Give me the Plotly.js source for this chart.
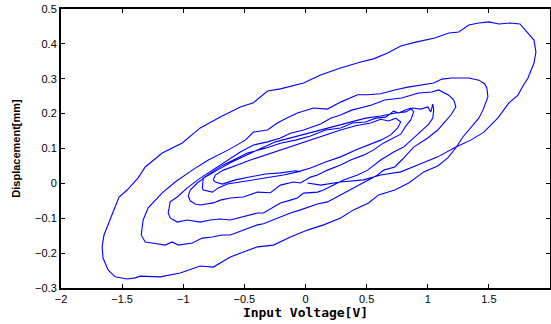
<!DOCTYPE html>
<html>
<head>
<meta charset="utf-8">
<script src="https://cdn.plot.ly/plotly-3.0.1.min.js"></script>
<style>
html,body{margin:0;padding:0;background:#fff;}
#chart{width:551px;height:324px;}
</style>
</head>
<body>
<div id="chart"></div>
<script>
// Input voltage [V] (x) and displacement [mm] (y) along the measured hysteresis spiral
const voltage = [
 0.016,0.123,0.287,0.475,0.615,0.779,0.943,1.082,1.230,1.352,1.459,1.574,1.664,1.738,1.779,1.820,1.869,1.885,1.869,1.795,1.754,
 1.672,1.582,1.500,1.418,1.336,1.254,1.172,1.057,0.902,0.779,0.672,0.557,0.451,0.287,0.123,-0.016,-0.205,-0.311,-0.426,-0.533,-0.697,-0.861,-1.008,-1.172,-1.311,-1.369,-1.459,-1.525,-1.574,-1.615,-1.648,-1.664,
 -1.656,-1.615,-1.557,-1.459,-1.393,-1.352,-1.189,-1.025,-0.902,-0.861,-0.754,-0.615,-0.508,-0.393,-0.262,-0.123,0.016,0.148,0.287,0.393,0.516,0.598,0.730,0.844,0.967,1.082,1.164,1.230,1.287,1.352,1.418,1.451,1.492,
 1.484,1.467,1.418,1.336,1.197,1.115,1.049,0.926,0.836,0.730,0.615,0.508,0.426,0.287,0.180,0.066,-0.066,-0.148,-0.230,-0.311,-0.426,-0.492,-0.631,-0.795,-0.926,-1.066,-1.172,-1.287,-1.328,-1.344,
 -1.311,-1.254,-1.148,-1.090,-1.041,-0.926,-0.844,-0.762,-0.680,-0.615,-0.508,-0.393,-0.344,-0.205,-0.123,-0.041,0.098,0.180,0.311,0.369,0.475,0.590,0.639,0.730,0.787,0.885,1.000,1.082,1.131,1.189,1.230,
 1.213,1.172,1.090,1.033,0.926,0.787,0.648,0.541,0.377,0.287,0.205,0.123,-0.016,-0.123,-0.205,-0.311,-0.426,-0.533,-0.672,-0.779,-0.861,-0.967,-1.049,-1.107,-1.123,
 -1.107,-1.049,-0.967,-0.861,-0.779,-0.697,-0.615,-0.475,-0.393,-0.344,-0.205,-0.123,-0.066,-0.016,0.098,0.148,0.230,0.311,0.426,0.508,0.615,0.721,0.803,0.885,0.959,1.008,1.041,1.049,
 1.041,1.025,1.000,0.943,0.877,0.820,0.738,0.615,0.492,0.369,0.246,0.123,0.000,-0.123,-0.246,-0.393,-0.508,-0.615,-0.721,-0.820,-0.885,-0.943,-0.959,
 -0.943,-0.902,-0.861,-0.754,-0.697,-0.615,-0.508,-0.393,-0.287,-0.205,-0.098,-0.041,0.041,0.098,0.180,0.287,0.369,0.475,0.557,0.639,0.721,0.779,0.820,0.861,0.885,
 0.861,0.811,0.762,0.721,0.656,0.574,0.492,0.385,0.287,0.164,0.041,-0.082,-0.205,-0.328,-0.475,-0.557,-0.672,-0.762,-0.836,-0.844,
 -0.836,-0.762,-0.713,-0.639,-0.533,-0.393,-0.287,-0.180,-0.066,0.041,0.164,0.287,0.410,0.516,0.615,0.697,0.754,0.779,
 0.738,0.680,0.615,0.533,0.410,0.287,0.164,0.041,-0.082,-0.205,-0.328,-0.451,-0.557,-0.672,-0.738,-0.754,
 -0.738,-0.680,-0.574,-0.451,-0.328,-0.205,-0.082,-0.041
];
const displacement = [
 0.001,-0.005,0.004,0.010,0.024,0.033,0.056,0.076,0.104,0.124,0.147,0.188,0.231,0.253,0.279,0.302,0.345,0.377,0.411,0.440,0.457,
 0.460,0.457,0.463,0.460,0.454,0.434,0.431,0.417,0.405,0.394,0.374,0.357,0.348,0.331,0.311,0.288,0.271,0.265,0.231,0.219,0.190,0.159,0.116,0.087,0.047,0.016,-0.019,-0.039,-0.082,-0.119,-0.148,-0.182,
 -0.214,-0.248,-0.268,-0.274,-0.271,-0.266,-0.268,-0.257,-0.243,-0.237,-0.240,-0.211,-0.197,-0.182,-0.177,-0.154,-0.134,-0.119,-0.099,-0.076,-0.056,-0.033,-0.019,0.001,0.033,0.050,0.073,0.102,0.133,0.159,0.187,0.210,0.248,
 0.273,0.285,0.296,0.302,0.302,0.299,0.288,0.282,0.276,0.268,0.257,0.254,0.254,0.233,0.213,0.216,0.202,0.188,0.173,0.153,0.147,0.124,0.096,0.067,0.038,0.004,-0.027,-0.070,-0.105,-0.148,
 -0.168,-0.171,-0.177,-0.168,-0.177,-0.171,-0.157,-0.154,-0.148,-0.148,-0.134,-0.119,-0.116,-0.096,-0.085,-0.076,-0.059,-0.053,-0.028,-0.019,0.001,0.024,0.038,0.047,0.067,0.104,0.130,0.153,0.173,0.196,0.219,
 0.239,0.253,0.268,0.262,0.259,0.245,0.239,0.225,0.210,0.196,0.187,0.170,0.153,0.144,0.130,0.119,0.110,0.090,0.059,0.033,0.015,-0.013,-0.039,-0.053,-0.085,
 -0.099,-0.111,-0.105,-0.111,-0.105,-0.102,-0.105,-0.091,-0.085,-0.085,-0.056,-0.048,-0.042,-0.028,-0.025,-0.019,-0.005,0.010,0.024,0.038,0.067,0.090,0.104,0.130,0.153,0.170,0.187,0.210,
 0.227,0.205,0.219,0.213,0.216,0.205,0.202,0.193,0.187,0.176,0.165,0.153,0.142,0.130,0.119,0.096,0.076,0.059,0.038,0.018,0.001,-0.019,-0.036,
 -0.050,-0.059,-0.062,-0.056,-0.048,-0.042,-0.039,-0.025,-0.027,-0.005,0.004,0.001,0.018,0.024,0.038,0.053,0.067,0.081,0.096,0.116,0.130,0.141,0.164,0.182,0.205,
 0.216,0.210,0.202,0.207,0.190,0.187,0.176,0.173,0.159,0.153,0.136,0.124,0.115,0.101,0.087,0.073,0.053,0.033,0.015,-0.013,
 -0.019,-0.025,-0.013,-0.002,0.004,0.010,0.018,0.024,0.033,0.044,0.061,0.076,0.096,0.110,0.124,0.139,0.159,0.176,
 0.187,0.179,0.184,0.173,0.165,0.153,0.139,0.124,0.110,0.096,0.081,0.067,0.053,0.038,0.024,0.010,
 0.004,-0.002,0.010,0.018,0.027,0.030,0.036,0.033
];
const xTicks = [-2,-1.5,-1,-0.5,0,0.5,1,1.5,2];
const yTicks = [-0.3,-0.2,-0.1,0,0.1,0.2,0.3,0.4,0.5];

const trace = {
  x: voltage, y: displacement, type: 'scatter', mode: 'lines',
  line: {color: '#0000ff', width: 1.1}, hoverinfo: 'skip', showlegend: false
};

const tickFont = {family: 'Liberation Sans, Arial, sans-serif', size: 11, color: '#000'};
const layout = {
  width: 551, height: 324,
  margin: {l: 61, r: 1, t: 9, b: 36, pad: 0},
  paper_bgcolor: '#fff', plot_bgcolor: '#fff',
  showlegend: false,
  xaxis: {
    range: [-2, 2], tickvals: xTicks, ticks: 'inside', ticklen: 4, tickwidth: 1, tickcolor: '#000',
    showline: true, linecolor: '#000', linewidth: 2, mirror: 'ticks',
    showgrid: false, zeroline: false, tickfont: tickFont, fixedrange: true,
    title: {text: 'Input Voltage[V]', font: {family: 'DejaVu Sans Mono, monospace', size: 13, color: '#000', weight: 'bold'}, standoff: 4}
  },
  yaxis: {
    range: [-0.3, 0.5], tickvals: yTicks, ticks: 'inside', ticklen: 4, tickwidth: 1, tickcolor: '#000',
    showline: true, linecolor: '#000', linewidth: 2, mirror: 'ticks',
    showgrid: false, zeroline: false, tickfont: tickFont, fixedrange: true,
    title: {text: 'Displacement[mm]', font: {family: 'Liberation Sans, Arial, sans-serif', size: 11, color: '#000', weight: 'bold'}, standoff: 12}
  }
};

Plotly.newPlot('chart', [trace], layout, {staticPlot: true, displayModeBar: false});
</script>
</body>
</html>
